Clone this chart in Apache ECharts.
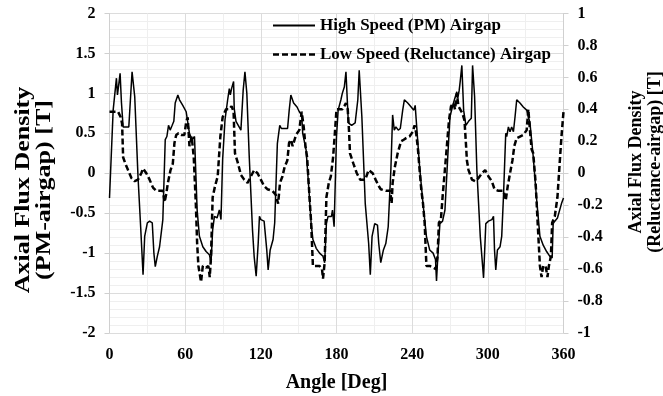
<!DOCTYPE html>
<html><head><meta charset="utf-8">
<script src="https://cdn.jsdelivr.net/npm/echarts@6/dist/echarts.min.js"></script>
<style>html,body{margin:0;padding:0;background:#fff}#c{width:663px;height:396px}</style>
</head><body><div id="c"></div>
<script>
const pmName = 'High Speed (PM) Airgap';
const relName = 'Low Speed (Reluctance) Airgap';
const pmAngle = [0,2.9,5.5,6.3,7.4,8.4,9.5,10.8,15.3,17.9,20,22.6,24.7,26.6,27.9,30,31.8,33.9,35.2,36.3,37.9,39.7,42.3,44.2,45.5,46.8,48.1,49.7,51,52.1,54.2,55.5,58.1,60.8,62,63.4,65.5,67.4,69.5,71.3,74,76.6,79.2,80.5,81.8,83.2,85.3,87.1,88.4,89.7,91.6,93.7,95,95.8,96.8,98.4,98.9,100.3,102.1,104.2,106,107.4,108.9,110.8,113.4,114.7,116.3,117.9,118.9,120,122.6,123.9,124.7,125.8,127.4,129.7,131,133.1,135,136.3,138.4,141.2,142.5,143.8,146,148.7,150.5,152.4,153.2,155.9,157.8,159.9,161.3,163.9,166.6,169.3,170.6,172,173.3,176,176.8,178.1,180,181.3,183.5,184.6,186.2,187.5,189.4,192,194.8,196.9,198,200.1,202.8,205.5,206.8,208.2,210.3,212.5,213.5,215.1,217.2,219.1,221,223.1,224.5,225.8,227.1,229,230.6,232.5,233.8,236.5,239.2,241.3,242.4,243.2,245.9,248.6,251.3,253.9,256.6,258.5,259.3,260.6,262,264.1,266,268.1,270,271.9,273.5,275.4,276.2,277.3,278.1,279.4,280.8,282.6,284.7,286.9,287.9,289.5,291.3,294,296.6,298.4,300.5,303.2,304.5,305.3,306.3,307.6,309.7,311,312.4,314.2,315,316.3,317.6,318.9,320.3,321.6,322.9,325.5,328.1,330.8,332.1,333.4,336,338.7,341.3,343.9,346.6,349.2,351,351.8,353.1,355.2,356.5,358.4,360];
const pmValue = [-0.31,0.79,1.19,0.98,1.12,1.25,0.88,0.58,0.58,1.27,0.96,-0.04,-0.67,-1.27,-0.79,-0.62,-0.6,-0.62,-1.0,-1.17,-1.04,-0.92,-0.58,0.42,0.46,0.6,0.54,0.6,0.65,0.88,0.98,0.92,0.85,0.77,0.75,0.5,0.42,0.46,-0.46,-0.79,-0.92,-0.98,-1.02,-1.12,-0.71,-0.54,-0.56,-0.46,-0.58,0.17,0.67,0.92,1.06,0.98,1.06,1.15,0.81,0.65,0.6,0.54,1.04,1.27,1.0,0.21,-0.71,-1.04,-1.29,-0.88,-0.54,-0.58,-0.6,-0.62,-0.96,-1.21,-0.96,-0.83,-0.62,0.37,0.6,0.56,0.56,0.56,0.79,0.98,0.88,0.83,0.77,0.73,0.5,0.29,-0.13,-0.63,-0.83,-0.94,-1.0,-1.04,-1.12,-0.63,-0.54,-0.54,-0.46,-0.67,0.46,0.79,0.92,1.0,1.08,1.27,0.63,0.6,0.63,0.92,1.29,0.71,-0.38,-0.88,-1.27,-0.79,-0.63,-0.65,-0.88,-1.12,-0.96,-0.88,-0.67,0.04,0.73,0.54,0.58,0.54,0.56,0.79,0.92,0.88,0.83,0.79,0.85,0.67,0.08,-0.38,-0.79,-0.96,-1.0,-1.08,-1.35,-0.96,-0.63,-0.6,-0.46,0.17,0.71,0.83,0.92,1.02,0.94,1.04,1.15,1.35,0.79,0.6,0.65,0.69,1.35,0.96,0.04,-0.79,-1.31,-0.63,-0.6,-0.58,-0.54,-0.96,-1.21,-0.96,-0.92,-0.79,-0.29,0.5,0.46,0.58,0.52,0.58,0.52,0.71,0.92,0.88,0.83,0.79,0.81,0.63,0.21,-0.33,-0.79,-0.9,-0.98,-1.04,-1.06,-0.63,-0.6,-0.56,-0.58,-0.38,-0.31];
const relAngle = [0,6.8,8.9,10,10.8,12.6,14.7,17.4,20,22.6,25.2,26.6,29.2,31.8,34.5,37.1,42.3,43.7,45,46.3,48.4,50.2,51.5,52.9,54.7,56.8,59.4,60.8,62,63.4,65.2,66.8,68.5,69.5,70.5,72.6,74,76.6,78.4,79.5,80.5,81.8,83.7,85.8,87.9,89.7,92.4,95,96.8,98.4,99.5,101.6,104.2,106.8,109.5,112.1,114.7,117.4,120,122.6,125.2,129.2,131.8,133.7,135.2,137.1,138.9,141,142.4,143.8,145.2,147.9,150.5,152.4,154,155.4,156.7,158.6,159.9,161.3,163.9,166.6,168.5,169.3,170.6,172,173.9,175.5,177.3,178.7,180,182.7,184.6,186.2,187.5,188.9,189.9,190.7,193.4,196.1,198.8,202.8,205.5,208.7,211,213.5,215.1,219.1,222.6,223.7,224.5,226.3,228.5,231.2,233.3,235.2,237.9,240.5,241.9,243.2,244.6,245.9,247.2,248.6,249.9,251.3,253.9,256.6,258.8,260.1,261.2,262.8,264.1,265.5,267.3,269.2,270.8,272.7,274,275.4,276.7,278.1,279.9,281.5,282.6,283.4,284.7,287.4,290,292.6,295.3,297.9,300.5,303.2,305.3,308.4,312.4,314.2,315.8,317.6,319.5,321,322.9,325.5,328.1,330.8,332.1,333.4,334.7,336,337.9,339.5,341.3,342.6,343.9,345.8,347.3,348.4,350,351,353.1,355.2,357.1,358.4,360];
const relValue = [0.385,0.385,0.35,0.31,0.1,0.06,0.02,-0.03,-0.05,-0.04,0,0.03,0,-0.04,-0.09,-0.11,-0.11,-0.18,-0.13,-0.06,0.02,0.06,0.19,0.24,0.25,0.24,0.24,0.32,0.35,0.17,0.23,0.1,-0.2,-0.44,-0.58,-0.68,-0.58,-0.59,-0.58,-0.65,-0.52,-0.15,-0.08,-0.02,0.23,0.35,0.4,0.4,0.42,0.385,0.125,0.07,-0.01,-0.04,-0.06,-0.02,0.02,0,-0.04,-0.08,-0.1,-0.11,-0.135,-0.19,-0.06,-0.02,0.04,0.08,0.19,0.21,0.17,0.24,0.27,0.385,0.29,0.17,0.1,-0.15,-0.31,-0.58,-0.58,-0.58,-0.6,-0.66,-0.56,-0.15,-0.06,-0.02,0.1,0.25,0.4,0.4,0.4,0.42,0.44,0.4,0.27,0.125,0.06,0,-0.04,-0.04,0.02,0,-0.04,-0.08,-0.1,-0.11,-0.11,-0.19,-0.06,0.04,0.125,0.2,0.21,0.22,0.23,0.26,0.3,0.25,0.15,0.02,-0.1,-0.19,-0.31,-0.58,-0.58,-0.59,-0.6,-0.52,-0.31,-0.29,-0.15,-0.02,0.15,0.33,0.42,0.44,0.4,0.5,0.42,0.42,0.375,0.33,0.19,0.08,0.02,-0.04,-0.05,-0.03,0,0.02,-0.02,-0.05,-0.1,-0.11,-0.11,-0.17,-0.08,0,0.08,0.17,0.22,0.23,0.24,0.27,0.4,0.27,0.15,0.125,-0.06,-0.31,-0.58,-0.65,-0.58,-0.58,-0.65,-0.58,-0.52,-0.31,-0.27,-0.15,0.08,0.23,0.385];
const xAxisTitle = 'Angle [Deg]';
const leftTitle = 'Axial Flux Density\n(PM-airgap) [T]';
const rightTitle = 'Axial Flux Density\n(Reluctance-airgap) [T]';

const FONT = '"Liberation Serif","Times New Roman",serif';
const pair = (a, v) => a.map((x, i) => [x, v[i]]);
const chart = echarts.init(document.getElementById('c'), null, {renderer: 'canvas'});
const lbl = {color: '#000', fontFamily: FONT, fontWeight: 'bold', fontSize: 16};
const solidIcon = 'path://M0,0H42V2H0Z';
const dashIcon = 'path://M0,0H6V2.5H0Z M9,0H15V2.5H9Z M18,0H24V2.5H18Z M27,0H33V2.5H27Z M36,0H42V2.5H36Z';
chart.setOption({
  animation: false,
  backgroundColor: '#fff',
  grid: {left: 109.5, right: 99.5, top: 13.5, bottom: 63, containLabel: false, outerBoundsMode: 'none'},
  legend: {
    orient: 'vertical', left: 268, top: 12, itemGap: 12, itemWidth: 42, itemHeight: 2.5,
    textStyle: {color: '#000', fontFamily: FONT, fontWeight: 'bold', fontSize: 17, lineHeight: 17},
    data: [{name: pmName, icon: solidIcon}, {name: relName, icon: dashIcon}],
    itemStyle: {color: '#000', borderWidth: 0}
  },
  xAxis: {
    type: 'value', min: 0, max: 360, interval: 60,
    name: xAxisTitle, nameLocation: 'middle', nameGap: 40,
    nameTextStyle: {color: '#000', fontFamily: FONT, fontWeight: 'bold', fontSize: 20},
    axisLine: {show: true, lineStyle: {color: '#d0d0d0', width: 1}},
    axisTick: {show: true, length: 5, lineStyle: {color: '#d0d0d0'}},
    axisLabel: Object.assign({margin: 14}, lbl),
    splitLine: {show: true, lineStyle: {color: '#dcdcdc', width: 1}},
    minorTick: {show: false, splitNumber: 2},
    minorSplitLine: {show: true, lineStyle: {color: '#efefef', width: 1}}
  },
  yAxis: [{
    type: 'value', min: -2, max: 2, interval: 0.5, position: 'left',
    axisLine: {show: true, onZero: false, lineStyle: {color: '#d0d0d0', width: 1}},
    axisTick: {show: true, length: 5, lineStyle: {color: '#d0d0d0'}},
    axisLabel: Object.assign({margin: 14}, lbl),
    splitLine: {show: true, lineStyle: {color: '#dcdcdc', width: 1}},
    minorTick: {show: false, splitNumber: 5},
    minorSplitLine: {show: true, lineStyle: {color: '#efefef', width: 1}}
  }, {
    type: 'value', min: -1, max: 1, interval: 0.2, position: 'right',
    axisLine: {show: true, onZero: false, lineStyle: {color: '#d0d0d0', width: 1}},
    axisTick: {show: true, length: 5, lineStyle: {color: '#d0d0d0'}},
    axisLabel: Object.assign({margin: 14}, lbl),
    splitLine: {show: false}
  }],
  graphic: [
    {type: 'text', x: 34, y: 190, rotation: Math.PI / 2, scaleX: 1.3,
     style: {text: leftTitle, font: 'bold 20px ' + FONT, fill: '#000', align: 'center', verticalAlign: 'middle', textAlign: 'center', textVerticalAlign: 'middle', lineHeight: 21}},
    {type: 'text', x: 646, y: 162, rotation: Math.PI / 2,
     style: {text: rightTitle, font: 'bold 18px ' + FONT, fill: '#000', align: 'center', verticalAlign: 'middle', textAlign: 'center', textVerticalAlign: 'middle', lineHeight: 19}}
  ],
  series: [{
    name: pmName, type: 'line', yAxisIndex: 0, symbol: 'none', data: pair(pmAngle, pmValue),
    lineStyle: {color: '#000', width: 1.5}, itemStyle: {color: '#000'}
  }, {
    name: relName, type: 'line', yAxisIndex: 1, symbol: 'none', data: pair(relAngle, relValue),
    lineStyle: {color: '#000', width: 2.5, type: [6, 3]}, itemStyle: {color: '#000'}
  }]
});
</script></body></html>
